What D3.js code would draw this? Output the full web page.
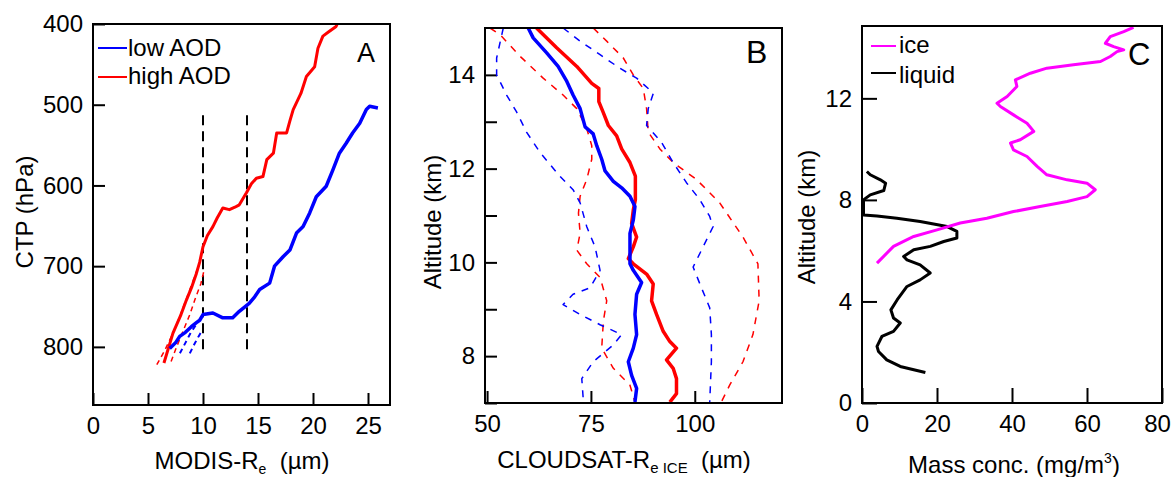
<!DOCTYPE html>
<html><head><meta charset="utf-8">
<script src="https://cdn.jsdelivr.net/npm/d3@7"></script>
<style>
html,body{margin:0;padding:0;background:#fff;}
svg text{font-family:"Liberation Sans",Arial,sans-serif;fill:#000;}
</style></head>
<body>
<script>
// ---------- Panel A data: [Re (µm), CTP (hPa)] ----------
const aTicksX = [0, 5, 10, 15, 20, 25];
const aTicksY = [400, 500, 600, 700, 800];
const aHigh = [[6.45,820],[7.27,783],[8.0,760],[8.49,742],[9.0,725],[9.4,709],[9.7,695],[10.0,676],[10.4,662],[10.9,651],[11.3,640],[11.8,628],[12.4,630],[12.9,627],[13.3,624],[13.95,609],[14.4,598],[14.85,591],[15.45,589],[15.8,568],[16.4,560],[16.7,535],[17.6,535],[17.9,520],[18.2,506],[18.9,486],[19.4,465],[20.15,453],[20.45,430],[20.9,415],[21.4,410],[22.1,403],[22.2,400]];
const aLow = [[6.97,802],[7.5,795],[7.88,787],[8.4,782],[8.94,775],[9.4,770],[9.7,767],[10.0,760],[10.9,758],[11.8,764],[12.7,764],[13.3,756],[14.2,746],[14.7,738],[15.15,729],[16.06,721],[16.5,700],[17.3,688],[17.9,680],[18.5,659],[19.1,651],[19.7,634],[20.3,614],[21.2,601],[21.8,581],[22.4,560],[23.0,548],[23.6,535],[24.25,523],[24.85,506],[25.15,502],[25.9,504]];
const aHighLoBand = [[5.8,822],[6.5,805],[7.2,785],[7.9,762],[8.5,740],[9.1,718],[9.6,700]];
const aHighHiBand = [[7.1,818],[7.6,800],[8.2,780],[8.8,760],[9.3,740],[9.8,722],[10.1,705]];
const aLowLoBand = [[7.9,808],[8.4,795],[8.9,782],[9.4,772]];
const aLowHiBand = [[8.8,808],[9.2,797],[9.6,787],[9.9,780]];
const aRefLines = [10, 14];
const aRefRange = [513, 807];

// ---------- Panel B data: [Re ice (µm), altitude (km)] ----------
const bTicksX = [50, 75, 100];
const bTicksY = [7, 8, 9, 10, 11, 12, 13, 14];
const bHigh = [[61.9,15.0],[66.75,14.58],[71.6,14.18],[75.2,13.82],[76.9,13.71],[76.9,13.43],[77.96,13.2],[79.2,12.92],[81.2,12.7],[82.4,12.42],[84.4,12.13],[85.7,11.84],[85.7,11.34],[85.2,11.12],[84.8,10.83],[86.0,10.54],[85.2,10.33],[84.0,10.08],[85.2,9.97],[88.4,9.75],[90.0,9.54],[89.6,9.18],[90.8,8.89],[92.4,8.53],[94.0,8.31],[95.6,8.17],[93.2,7.92],[94.8,7.74],[95.6,7.52],[95.6,7.2],[94.0,7.02]];
const bLow = [[59.9,15.0],[61.1,14.79],[64.35,14.47],[67.1,14.18],[69.2,13.86],[70.7,13.57],[72.4,13.28],[73.6,12.89],[75.55,12.74],[76.4,12.49],[77.6,12.2],[78.4,11.95],[80.4,11.73],[82.4,11.59],[84.4,11.41],[85.6,11.19],[85.2,10.9],[84.4,10.62],[84.4,10.33],[84.4,9.97],[85.2,9.83],[87.2,9.57],[86.0,9.32],[85.6,8.89],[86.0,8.46],[85.2,8.17],[84.0,7.88],[84.8,7.59],[86.0,7.31],[85.6,7.02]];
const bHighLo = [[50.7,15.0],[53.1,14.86],[57.9,14.4],[63.5,13.93],[68.3,13.57],[71.6,13.28],[74.0,12.85],[75.2,12.49],[75.2,12.2],[74.0,11.77],[72.4,11.41],[72.0,11.05],[72.4,10.62],[71.6,10.26],[74.0,9.97],[77.2,9.68],[78.8,9.18],[78.0,8.75],[77.6,8.17],[80.4,7.74],[84.4,7.38],[85.6,7.02]];
const bHighHi = [[75.55,15.0],[78.8,14.72],[82.8,14.36],[85.2,14.0],[87.6,13.71],[88.4,13.28],[88.8,12.78],[91.6,12.42],[94.8,12.13],[100.4,11.77],[106.0,11.27],[111.6,10.54],[115.2,9.97],[115.5,9.18],[114.0,8.46],[111.6,7.88],[108.4,7.38],[106.4,7.02]];
const bLowLo = [[53.9,15.0],[52.3,14.36],[52.3,14.0],[54.7,13.57],[57.1,13.21],[59.5,12.78],[62.7,12.35],[67.5,11.84],[70.7,11.55],[72.4,11.27],[74.0,10.76],[76.0,10.33],[77.2,9.83],[74.8,9.46],[70.7,9.32],[68.3,9.1],[72.4,8.89],[77.2,8.67],[82.4,8.46],[80.4,8.24],[75.55,7.88],[72.8,7.52],[73.2,7.02]];
const bLowHi = [[68.3,15.0],[72.4,14.72],[77.2,14.43],[82.0,14.14],[86.0,13.93],[88.8,13.71],[90.0,13.6],[88.8,13.28],[88.4,12.92],[92.0,12.56],[94.8,12.13],[98.0,11.7],[101.2,11.34],[103.6,10.98],[104.4,10.76],[102.0,10.33],[99.6,9.9],[101.6,9.46],[103.6,9.03],[104.0,8.46],[104.0,7.88],[103.6,7.02]];

// ---------- Panel C data: [mass conc. (mg/m3), altitude (km)] ----------
const cTicksX = [0, 20, 40, 60, 80];
const cTicksY = [0, 4, 8, 12];
const cIce = [[4.0,5.51],[8.4,6.17],[13.8,6.56],[20.0,6.82],[26.2,7.09],[33.3,7.28],[40.4,7.54],[47.5,7.74],[54.7,7.94],[60.0,8.13],[62.2,8.4],[60.0,8.66],[54.7,8.79],[49.3,8.99],[46.7,9.32],[44.0,9.71],[40.4,9.97],[39.6,10.24],[42.2,10.37],[45.8,10.7],[44.0,11.02],[40.4,11.35],[36.9,11.68],[36.0,11.81],[38.7,12.07],[41.3,12.47],[40.9,12.73],[44.9,12.99],[49.3,13.19],[56.4,13.32],[63.6,13.45],[66.2,13.65],[68.0,13.84],[69.8,13.91],[67.1,14.04],[64.9,14.17],[66.2,14.43],[69.8,14.63],[72.4,14.8]];
const cLiquid = [[16.9,1.2],[13.8,1.31],[10.2,1.44],[6.6,1.7],[4.4,2.03],[4.0,2.23],[5.3,2.62],[8.4,2.82],[10.2,3.15],[8.4,3.35],[7.7,3.67],[9.4,4.07],[12.0,4.59],[15.5,4.85],[18.2,5.12],[15.5,5.44],[12.0,5.64],[11.1,5.77],[13.8,6.04],[18.2,6.17],[21.8,6.36],[25.3,6.5],[25.3,6.76],[22.7,6.95],[15.5,7.15],[9.3,7.28],[4.0,7.37],[0.4,7.41],[0.4,8.0],[2.2,8.2],[5.8,8.37],[6.3,8.66],[4.9,8.79],[2.2,8.99],[1.3,9.12]];

const BLUE = "#0000ff", RED = "#ff0000", MAG = "#ff00ff";

const svg = d3.select("body").append("svg").attr("width", 1174).attr("height", 477);

function panel(o) {
  const x = d3.scaleLinear().domain(o.xd).range(o.xr);
  const y = d3.scaleLinear().domain(o.yd).range(o.yr);
  const g = svg.append("g");
  const ax = g.append("g").attr("transform", `translate(0,${o.yr[0]})`)
    .call(d3.axisBottom(x).tickValues(o.tx).tickSize(-o.tl).tickSizeOuter(0).tickPadding(12).tickFormat(o.fx || d3.format("d")));
  const ay = g.append("g").attr("transform", `translate(${o.xr[0]},0)`)
    .call(d3.axisLeft(y).tickValues(o.ty).tickSize(-o.tl).tickSizeOuter(0).tickPadding(10).tickFormat(o.fy || d3.format("d")));
  [ax, ay].forEach(a => {
    a.select(".domain").remove();
    a.selectAll(".tick line").attr("stroke", "#000").attr("stroke-width", 2);
    a.selectAll(".tick text").attr("font-size", 24).attr("font-family", "Liberation Sans, Arial, sans-serif");
  });
  const line = d3.line().x(d => x(d[0])).y(d => y(d[1]));
  return {x, y, g, ax, ay, line};
}

function frame(p) {
  const [x0, x1] = p.x.range(), [y0, y1] = p.y.range();
  p.g.append("rect").attr("x", x0).attr("y", Math.min(y0, y1)).attr("width", x1 - x0)
    .attr("height", Math.abs(y0 - y1)).attr("fill", "none").attr("stroke", "#000").attr("stroke-width", 2);
}

function path(p, data, color, w, dash) {
  p.g.append("path").datum(data).attr("d", p.line).attr("fill", "none")
    .attr("stroke", color).attr("stroke-width", w).attr("stroke-linejoin", "round")
    .attr("stroke-dasharray", dash || null);
}

// ---------- Panel A ----------
const A = panel({xd: [0, 27], xr: [93, 390], yd: [872, 400], yr: [405, 24], tx: aTicksX, ty: aTicksY, tl: 12});
aRefLines.forEach(v => {
  A.g.append("line").attr("x1", A.x(v)).attr("x2", A.x(v)).attr("y1", A.y(aRefRange[0])).attr("y2", A.y(aRefRange[1]))
    .attr("stroke", "#000").attr("stroke-width", 2).attr("stroke-dasharray", "10,6");
});
path(A, aHighLoBand, RED, 1.5, "5,4");
path(A, aHighHiBand, RED, 1.5, "5,4");
path(A, aLowLoBand, BLUE, 2, "5,4");
path(A, aLowHiBand, BLUE, 2, "5,4");
path(A, aHigh, RED, 3);
path(A, aLow, BLUE, 3.5);
frame(A);
[["low AOD", BLUE, 48, 56], ["high AOD", RED, 77, 84]].forEach(([t, c, ly, ty]) => {
  A.g.append("line").attr("x1", 98).attr("x2", 127).attr("y1", ly).attr("y2", ly).attr("stroke", c).attr("stroke-width", 2);
  A.g.append("text").attr("x", 128).attr("y", ty).attr("font-size", 24).text(t);
});
A.g.append("text").attr("x", 357).attr("y", 62).attr("font-size", 27).text("A");
svg.append("text").attr("transform", "translate(33,212) rotate(-90)").attr("text-anchor", "middle").attr("font-size", 24).text("CTP (hPa)");
{
  const t = svg.append("text").attr("x", 242).attr("y", 469).attr("text-anchor", "middle").attr("font-size", 24);
  t.append("tspan").text("MODIS-R");
  t.append("tspan").attr("font-size", 14).attr("dy", 5).text("e");
  t.append("tspan").attr("dy", -5).text("\u00a0 (\u00b5m)");
}

// ---------- Panel B ----------
const B = panel({xd: [49.5, 121], xr: [485, 782], yd: [7, 15], yr: [403, 28], tx: bTicksX, ty: bTicksY, tl: 12,
  fy: d => (d % 2 === 0 ? d : "")});
path(B, bHighLo, RED, 1.5, "7,7");
path(B, bHighHi, RED, 1.5, "7,7");
path(B, bLowLo, BLUE, 1.5, "7,7");
path(B, bLowHi, BLUE, 1.5, "7,7");
path(B, bHigh, RED, 3.5);
path(B, bLow, BLUE, 3.5);
frame(B);
B.g.append("text").attr("x", 746).attr("y", 63).attr("font-size", 32).text("B");
svg.append("text").attr("transform", "translate(441,222) rotate(-90)").attr("text-anchor", "middle").attr("font-size", 24).text("Altitude (km)");
{
  const t = svg.append("text").attr("x", 624).attr("y", 468).attr("text-anchor", "middle").attr("font-size", 24);
  t.append("tspan").text("CLOUDSAT-R");
  t.append("tspan").attr("font-size", 15).attr("dy", 5).text("e ICE");
  t.append("tspan").attr("dy", -5).text("\u00a0 (\u00b5m)");
}

// ---------- Panel C ----------
const C = panel({xd: [0, 80], xr: [862, 1162], yd: [0, 14.85], yr: [403, 26], tx: cTicksX, ty: cTicksY, tl: 15});
C.ax.selectAll(".tick text").filter(d => d === 80).attr("dx", -5);
path(C, cLiquid, "#000", 3);
path(C, cIce, MAG, 3);
frame(C);
[["ice", MAG, 46, 53], ["liquid", "#000", 73, 83]].forEach(([t, c, ly, ty]) => {
  C.g.append("line").attr("x1", 871).attr("x2", 896).attr("y1", ly).attr("y2", ly).attr("stroke", c).attr("stroke-width", 2);
  C.g.append("text").attr("x", 899).attr("y", ty).attr("font-size", 24).text(t);
});
C.g.append("text").attr("x", 1128).attr("y", 65).attr("font-size", 31).text("C");
svg.append("text").attr("transform", "translate(815,217) rotate(-90)").attr("text-anchor", "middle").attr("font-size", 24).text("Altitude (km)");
{
  const t = svg.append("text").attr("x", 1014).attr("y", 473).attr("text-anchor", "middle").attr("font-size", 24);
  t.append("tspan").text("Mass conc. (mg/m");
  t.append("tspan").attr("font-size", 14).attr("dy", -10).text("3");
  t.append("tspan").attr("dy", 10).text(")");
}
</script>
</body></html>
